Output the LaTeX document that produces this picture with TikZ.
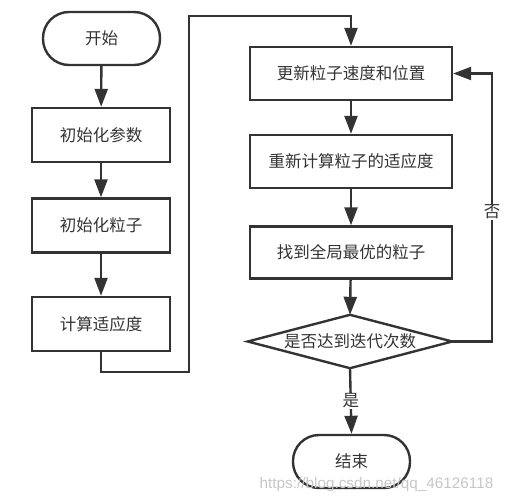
\documentclass[tikz,border=0pt]{standalone}
\usepackage{fontspec}
\setmainfont{Noto Sans CJK SC}
\newfontfamily\markfont{Liberation Sans}
\usetikzlibrary{arrows.meta}
\definecolor{ink}{HTML}{333333}

\begin{document}
\begin{tikzpicture}[x=1pt, y=-1pt,
    every node/.style={text=ink, font=\fontsize{16.5pt}{20pt}\selectfont},
    term/.style={draw=ink, line width=2.4pt, rounded corners=26pt, minimum width=117pt, minimum height=53pt},
    proc/.style={draw=ink, line width=2.4pt, minimum height=54pt},
    arr/.style={draw=ink, line width=2.4pt, -{Triangle[length=18pt, width=13pt]}},
    lbl/.style={fill=white, inner sep=1pt}]
            \useasboundingbox (0,0) rectangle (508,503);

            % left column
            \node[term] (start) at (101.5,38.5) {开始};
            \node[proc, minimum width=138pt] (init1) at (101,135) {初始化参数};
            \node[proc, minimum width=138pt] (init2) at (101,225.5) {初始化粒子};
            \node[proc, minimum width=138pt] (fit0) at (101,324) {计算适应度};

            % right column
            \node[proc, minimum width=202pt, minimum height=53pt] (upd) at (351,73.5) {更新粒子速度和位置};
            \node[proc, minimum width=202pt, minimum height=53pt] (fit1) at (351,161.5) {重新计算粒子的适应度};
            \node[proc, minimum width=202pt, minimum height=52pt] (best) at (351,252.5) {找到全局最优的粒子};
            \node[minimum width=204pt, minimum height=53pt, inner sep=0pt] (check) at (350,341.5) {是否达到迭代次数};
            \draw[draw=ink, line width=2.4pt, line join=miter] (check.north) -- (check.east) -- (check.south) -- (check.west) -- cycle;
            \node[term] (stop) at (351.5,461.5) {结束};

            \coordinate (c1) at (189,372);
            \coordinate (c2) at (189,16);
            \coordinate (back) at (492,73.5);

            \draw[arr] (start) -- (init1);
            \draw[arr] (init1) -- (init2);
            \draw[arr] (init2) -- (fit0);
            \draw[arr] (fit0.south) |- (c1) -- (c2) -| (upd.north);
            \draw[arr] (upd) -- (fit1);
            \draw[arr] (fit1) -- (best);
            \draw[arr] (best) -- (check.north);
            \draw[arr] (check.south) -- node[lbl] (yes) {是} (stop.north);
            \draw[arr] (check.east) -| (back) -- (upd.east);
            \node[lbl] (no) at (492,212) {否};

            % watermark
            \node[text=black!22, font=\markfont\fontsize{15.3pt}{18pt}\selectfont] (mark) at (376.5,485) {https://blog.csdn.net/qq\_46126118};
        \end{tikzpicture}
\end{document}
